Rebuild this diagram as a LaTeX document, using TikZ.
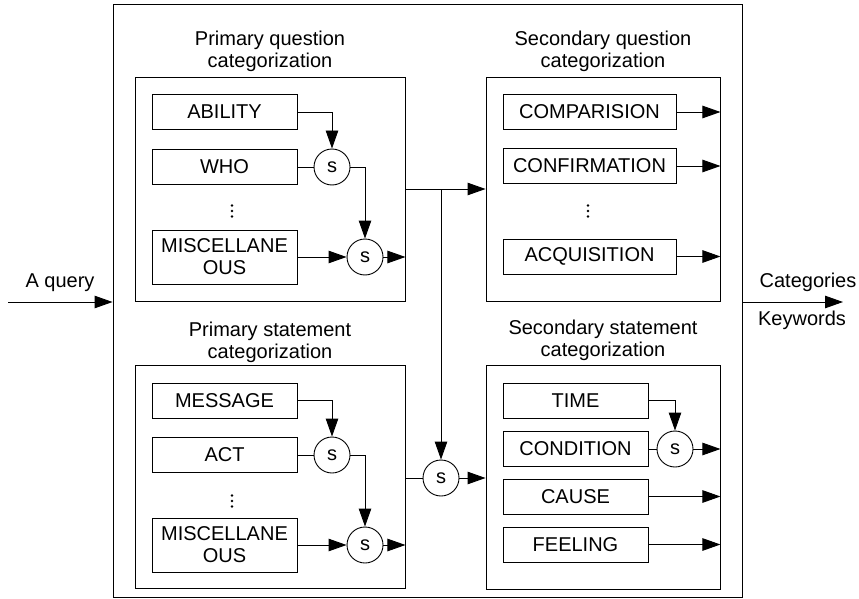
\documentclass[tikz,border=0pt]{standalone}
\usepackage{fontspec}
\setmainfont{Liberation Sans}
\usetikzlibrary{arrows.meta}
\begin{document}
\begin{tikzpicture}[x=1pt,y=-1pt, line width=0.9pt,
  every node/.style={font=\fontsize{20}{22}\selectfont},
  box/.style={draw, rectangle, inner sep=0pt},
  itembox/.style={draw, rectangle, inner sep=0pt, minimum width=145pt, minimum height=35pt, align=center},
  wideitem/.style={itembox, minimum width=173pt},
  sumnode/.style={draw, circle, inner sep=0pt, minimum size=36pt},
  arr/.style={-{Triangle[length=18pt,width=12.5pt]}},
  ttl/.style={align=center, inner sep=0pt},
  vdot/.pic={\fill (0,-5.5) circle (1.3pt); \fill (0,0) circle (1.3pt); \fill (0,5.5) circle (1.3pt);}]
\useasboundingbox (0,0) rectangle (859,599);

% outer and group boxes
\node[box, minimum width=629pt, minimum height=593pt] (outer) at (427.5,300.5) {};
\node[box, minimum width=270pt, minimum height=224pt] (pq) at (270,189) {};
\node[box, minimum width=234pt, minimum height=224pt] (sq) at (603,189) {};
\node[box, minimum width=270pt, minimum height=223pt] (ps) at (270,476.5) {};
\node[box, minimum width=234pt, minimum height=224pt] (ss) at (603,477) {};

% titles
\node[ttl] (tpq) at (270,51) {Primary question\\categorization};
\node[ttl] (tsq) at (603,51) {Secondary question\\categorization};
\node[ttl] (tps) at (270,342) {Primary statement\\categorization};
\node[ttl] (tss) at (603,340) {Secondary statement\\categorization};

% primary question
\node[itembox] (ability) at (224.5,112) {ABILITY};
\node[itembox] (who) at (224.5,167) {WHO};
\pic at (232,211) {vdot};
\node[itembox, minimum height=54pt] (miscq) at (224.5,257) {MISCELLANE\\OUS};
\node[sumnode] (s1) at (332,167) {s};
\node[sumnode] (s2) at (365,257) {s};

% primary statement
\node[itembox] (message) at (224.5,400.5) {MESSAGE};
\node[itembox] (act) at (224.5,455) {ACT};
\pic at (232,501) {vdot};
\node[itembox, minimum height=54pt] (miscs) at (224.5,545) {MISCELLANE\\OUS};
\node[sumnode] (s3) at (332,455) {s};
\node[sumnode] (s4) at (365,545) {s};

% secondary question
\node[wideitem] (comp) at (589.5,112) {COMPARISION};
\node[wideitem] (conf) at (589.5,166) {CONFIRMATION};
\pic at (588,211) {vdot};
\node[wideitem] (acq) at (589.5,256.5) {ACQUISITION};

% secondary statement
\node[itembox] (time) at (575.5,400.5) {TIME};
\node[itembox] (cond) at (575.5,449) {CONDITION};
\node[itembox] (cause) at (575.5,496.5) {CAUSE};
\node[itembox] (feel) at (575.5,544.5) {FEELING};
\node[sumnode] (s6) at (675,449) {s};

% merge
\node[sumnode] (s5) at (441,478) {s};
\coordinate (j) at (441,189);

% inputs/outputs
\coordinate (qin) at (8,302);
\coordinate (qout) at (843,302);
\node (lq) at (60,283) {A query};
\node (lc) at (808,282) {Categories};
\node (lk) at (802,320) {Keywords};
\draw[arr] (qin) -- (qin -| outer.west);
\draw[arr] (outer.east |- qout) -- (qout);

% primary question wiring
\draw[arr] (ability.east) -| (s1.north);
\draw (who.east) -- (s1.west);
\draw[arr] (s1.east) -| (s2.north);
\draw[arr] (miscq.east) -- (s2.west);
\draw[arr] (s2.east) -- (s2.east -| pq.east);

% primary statement wiring
\draw[arr] (message.east) -| (s3.north);
\draw (act.east) -- (s3.west);
\draw[arr] (s3.east) -| (s4.north);
\draw[arr] (miscs.east) -- (s4.west);
\draw[arr] (s4.east) -- (s4.east -| ps.east);

% between columns
\draw[arr] (pq.east |- j) -- (sq.west |- j);
\draw[arr] (j) -- (s5.north);
\draw (ps.east |- s5) -- (s5.west);
\draw[arr] (s5.east) -- (ss.west |- s5);

% secondary question outputs
\draw[arr] (comp.east) -- (comp.east -| sq.east);
\draw[arr] (conf.east) -- (conf.east -| sq.east);
\draw[arr] (acq.east) -- (acq.east -| sq.east);

% secondary statement wiring
\draw[arr] (time.east) -| (s6.north);
\draw (cond.east) -- (s6.west);
\draw[arr] (s6.east) -- (s6.east -| ss.east);
\draw[arr] (cause.east) -- (cause.east -| ss.east);
\draw[arr] (feel.east) -- (feel.east -| ss.east);
\end{tikzpicture}
\end{document}
